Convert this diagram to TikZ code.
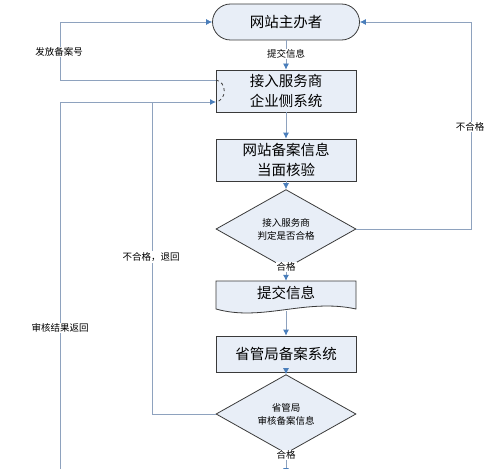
\documentclass[tikz,border=0pt]{standalone}
\usepackage{fontspec}
\usepackage{tikz}
\setmainfont{Noto Sans CJK SC}
\usetikzlibrary{arrows.meta}
\usetikzlibrary{shapes.geometric}
\definecolor{mfill}{HTML}{E8EEF7}
\definecolor{mline}{HTML}{8EA2BE}
\definecolor{mtip}{HTML}{4A7EBB}
\definecolor{mdraw}{HTML}{3A3A3A}
\tikzset{
  proc/.style = {draw = mdraw, fill = mfill, thick, minimum width = 140, minimum height = 42, inner sep = 0, align = center, font = \fontsize{14.5}{20}\selectfont},
  term/.style = {proc, rounded corners = 18, minimum width = 147, minimum height = 36},
  dec/.style = {draw = mdraw, fill = mfill, thick, diamond, minimum width = 140, minimum height = 50, inner sep = 0, align = center, font = \fontsize{9.5}{13}\selectfont},
  lab/.style = {fill = white, inner sep = 1, font = \fontsize{9.5}{11}\selectfont},
  conn/.style = {draw = mline, thick, -{Latex[length = 6, width = 6, color = mtip]}},
  wire/.style = {draw = mline, thick}
}

\begin{document}
\begin{tikzpicture}[x = 1pt, y = -1pt]
    \useasboundingbox (0, 0) rectangle (500, 468);

    \node [term] (host) at (286, 22) {网站主办者};
    \node [proc] (sys) at (286, 91) {接入服务商\\企业侧系统};
    \node [proc] (check) at (286, 160) {网站备案信息\\当面核验};
    \node [dec] (judge) at (286, 229) {接入服务商\\判定是否合格};
    \node [minimum width = 140, minimum height = 30, inner sep = 0, font = \fontsize{14.5}{20}\selectfont] (doc) at (286, 296) {};
    \node [proc, minimum height = 36] (prov) at (286, 354) {省管局备案系统};
    \node [dec] (audit) at (286, 414) {省管局\\审核备案信息};

    % document shape with wavy bottom
    \draw [draw = mdraw, fill = mfill, thick] (216, 281) -- (356, 281) -- (356, 309)
      .. controls (306, 298) and (262, 322) .. (216, 309) -- cycle;
    \node [font = \fontsize{14.5}{20}\selectfont] at (286, 293) {提交信息};

    \coordinate (out) at (216, 80);
    \coordinate (in) at (216, 102);
    \coordinate (end) at (286, 474);
    \coordinate (left) at (60, 474);

    \draw [conn] (host) -- (sys);
    \draw [conn] (sys) -- (check);
    \draw [conn] (check) -- (judge);
    \draw [conn] (judge) -- (doc);
    \draw [conn] (doc.south) -- (prov);
    \draw [conn] (prov) -- (audit);
    \draw [conn] (audit) -- (end);
    \draw [conn] (judge.east) -- (471, 229) -- (471, 22) -- (host.east);
    \draw [conn] (out) -- (60, 80) -- (60, 22) -- (host.west);
    \draw [conn] (audit.west) -- (152, 414) -- (152, 102) -- (in);
    \draw [wire] (left) -- (60, 102) -- (152, 102);
    \draw [mdraw, dashed, thick] (out) .. controls (227, 82) and (227, 100) .. (in);

    \node [lab] at (286, 54) {提交信息};
    \node [lab] at (286, 267) {合格};
    \node [lab] at (286, 455) {合格};
    \node [lab] at (470, 127) {不合格};
    \node [lab] at (59, 52) {发放备案号};
    \node [lab] at (151, 257) {不合格，退回};
    \node [lab] at (60, 328) {审核结果返回};
  \end{tikzpicture}
\end{document}
